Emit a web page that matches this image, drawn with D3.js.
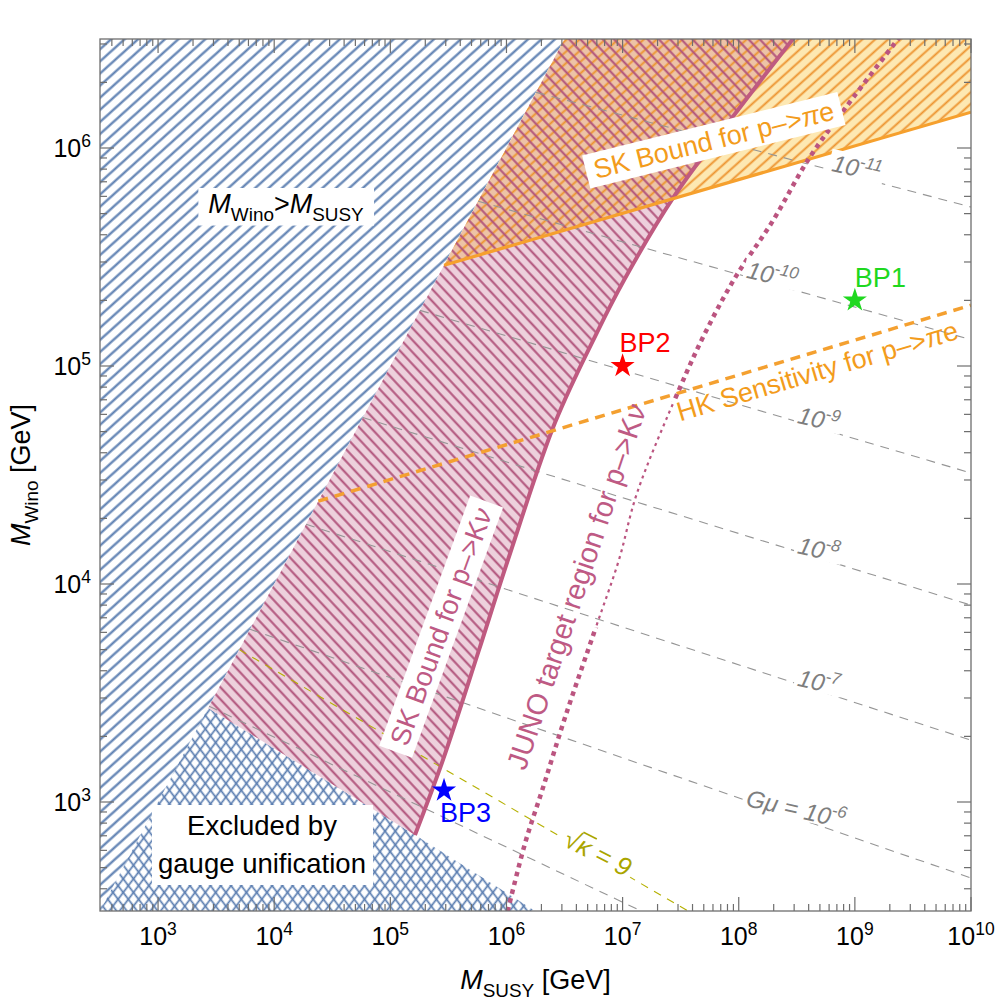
<!DOCTYPE html>
<html>
<head>
<meta charset="utf-8">
<script src="https://cdn.jsdelivr.net/npm/d3@7"></script>
<style>
  body { margin: 0; background: #fff; }
  svg { font-family: 'Liberation Sans', Arial, sans-serif; }
</style>
</head>
<body>
<svg id="chart"></svg>
<script>
// ---------- data (GeV) ----------
const xDomain = [10 ** 2.5, 1e10]
const yDomain = [10 ** 2.5, 10 ** 6.5]

const xTickExps = [3, 4, 5, 6, 7, 8, 9, 10]
const yTickExps = [3, 4, 5, 6]

// M_Wino = M_SUSY
const diagonal = [[10 ** 2.5, 10 ** 2.5], [10 ** 6.6, 10 ** 6.6]]

// upper edge of the gauge unification exclusion
const gaugeBoundary = [[2.7e3, 2.7e3], [1.63e5, 706], [1.77e6, 316]]

// SK bound p -> K nu (top to bottom)
const skKnuCurve = [
  [3.05e8, 3.25e6], [7.9e7, 1.28e6], [2.72e7, 5.9e5], [1.03e7, 2.48e5],
  [6.0e6, 1.42e5], [2.62e6, 5.5e4], [1.03e6, 1.29e4], [5.8e5, 4.98e3],
  [2.84e5, 1.56e3], [1.63e5, 706]
]

// JUNO target region p -> K nu (top to bottom)
const junoCurve = [
  [2.45e9, 3.25e6], [8.4e8, 1.54e6], [4.05e8, 9.0e5], [1.94e8, 4.58e5],
  [9.3e7, 2.54e5], [5.14e7, 1.42e5], [3.13e7, 8.0e4], [1.33e7, 2.61e4],
  [9.3e6, 1.29e4], [5.9e6, 6.35e3], [3.2e6, 2.45e3], [2.07e6, 1.17e3],
  [1.45e6, 650], [1.0e6, 300]
]
const junoThinBand = [6.3e3, 6.9e4]

// SK bound p -> pi e, HK sensitivity p -> pi e
const skPiELine = [[2.9e5, 2.9e5], [1e10, 1.46e6]]
const hkPiELine = [[2.4e4, 2.4e4], [1e10, 1.9e5]]

// G mu contours
const gmuExps = [-11, -10, -9, -8, -7, -6, -5]
const gmuStart = [1.8e6, 5.7e5, 1.8e5, 5.8e4, 1.88e4, 6.2e3, 2.75e3]
const gmuEnd = [[1e10, 5.36e5], [1e10, 1.32e5], [1e10, 3.23e4], [1e10, 8.0e3],
                [1e10, 1.92e3], [1e10, 448], [1.45e7, 316]]
const gmuLabelX = [1.0e9, 1.87e8, 4.7e8, 4.7e8, 4.7e8, 3.0e8, null]

// sqrt(kappa) = 9
const kappaLine = [[5.0e3, 5.0e3], [3.67e7, 316]]

// benchmark points
const bpNames = ['BP1', 'BP2', 'BP3']
const bpPoints = [[1e9, 2e5], [1e7, 1e5], [2.9e5, 1.13e3]]
const bpColors = ['#1fd81f', '#ff0000', '#0000ff']
const bpOffsets = [[0, -13], [-3, -14], [-4, 32]]

// ---------- setup ----------
const width = 1000
const height = 1000
const plot = {left: 100, right: 971, top: 39, bottom: 911}

const x = d3.scaleLog().domain(xDomain).range([plot.left, plot.right])
const y = d3.scaleLog().domain(yDomain).range([plot.bottom, plot.top])

const svg = d3.select('#chart')
  .attr('width', width)
  .attr('height', height)
  .attr('viewBox', [0, 0, width, height])

const defs = svg.append('defs')

defs.append('clipPath').attr('id', 'plotClip')
  .append('rect')
    .attr('x', plot.left).attr('y', plot.top)
    .attr('width', plot.right - plot.left).attr('height', plot.bottom - plot.top)

function hatch(id, angle, spacing, color, w) {
  const p = defs.append('pattern')
    .attr('id', id)
    .attr('patternUnits', 'userSpaceOnUse')
    .attr('width', 20).attr('height', spacing)
    .attr('patternTransform', `rotate(${angle})`)
  p.append('line')
    .attr('x1', -1).attr('x2', 21)
    .attr('y1', spacing / 2).attr('y2', spacing / 2)
    .attr('stroke', color).attr('stroke-width', w)
}

hatch('blueHatch', -42, 9, '#5a7db0', 2.2)
hatch('crossA', -53, 8.2, '#5a7db0', 1.7)
hatch('crossB', 53, 8.2, '#5a7db0', 1.7)
hatch('pinkHatch', 47, 8.2, '#b0527a', 2)
hatch('orangeHatch', -42, 8.6, '#ec9430', 1.9)

const line = d3.line().x(d => x(d[0])).y(d => y(d[1]))
const smooth = d3.line().x(d => x(d[0])).y(d => y(d[1])).curve(d3.curveCatmullRom)
const poly = pts => line(pts) + 'Z'

const topY = 10 ** 6.6
const gaugeRegion = [[xDomain[0], yDomain[0]], ...gaugeBoundary]
const orangeRegion = [skPiELine[0], skPiELine[1], [1e10, topY], [topY, topY]]
const blueRegion = [diagonal[0], diagonal[1], [xDomain[0], topY]]
// pink region: diagonal up to the top, down the SK curve, back along the gauge edge
const pinkPath = line([gaugeBoundary[0], [topY, topY]]) +
  'L' + smooth(skKnuCurve).slice(1) + 'Z'

defs.append('clipPath').attr('id', 'pinkClip')
  .append('path').attr('d', pinkPath)

const g = svg.append('g').attr('clip-path', 'url(#plotClip)')

// M_Wino > M_SUSY
g.append('path').attr('d', poly(blueRegion)).attr('fill', 'url(#blueHatch)')

// gauge unification
g.append('path').attr('d', poly(gaugeRegion)).attr('fill', 'url(#crossA)')
g.append('path').attr('d', poly(gaugeRegion)).attr('fill', 'url(#crossB)')

// SK p->K nu and SK p->pi e regions
g.append('path').attr('d', pinkPath).attr('fill', '#edd0dc')
g.append('path').attr('d', poly(orangeRegion)).attr('fill', '#fde8b2')
g.append('g').attr('clip-path', 'url(#pinkClip)')
  .append('path').attr('d', poly(orangeRegion)).attr('fill', '#edc3a6')
g.append('path').attr('d', poly(orangeRegion)).attr('fill', 'url(#orangeHatch)')
g.append('path').attr('d', pinkPath).attr('fill', 'url(#pinkHatch)')

// G mu contours
const gmuPaths = gmuStart.map((s, i) => [[s, s], gmuEnd[i]])
g.selectAll('path.gmu')
  .data(gmuPaths)
  .join('path')
    .attr('class', 'gmu')
    .attr('d', line)
    .attr('fill', 'none')
    .attr('stroke', '#959595')
    .attr('stroke-width', 1.1)
    .attr('stroke-dasharray', '9,7')

// sqrt(kappa) = 9
g.append('path').attr('d', line(kappaLine))
  .attr('fill', 'none').attr('stroke', '#b5b000')
  .attr('stroke-width', 1.1).attr('stroke-dasharray', '8,7')

// boundaries
g.append('path').attr('d', smooth(skKnuCurve))
  .attr('fill', 'none').attr('stroke', '#bf5a80').attr('stroke-width', 4)
  .attr('stroke-linejoin', 'round')

g.append('path').attr('d', line(skPiELine))
  .attr('fill', 'none').attr('stroke', '#f6a02d').attr('stroke-width', 3.2)

g.append('path').attr('d', line(hkPiELine))
  .attr('fill', 'none').attr('stroke', '#f4a030').attr('stroke-width', 3.5)
  .attr('stroke-dasharray', '10,7')

// JUNO: thick dots, thinner beside the label
const bandTop = y(junoThinBand[1])
const bandBot = y(junoThinBand[0])
const outside = defs.append('clipPath').attr('id', 'junoOut')
outside.append('rect').attr('x', 0).attr('y', 0).attr('width', width).attr('height', bandTop)
outside.append('rect').attr('x', 0).attr('y', bandBot).attr('width', width).attr('height', height - bandBot)
defs.append('clipPath').attr('id', 'junoIn')
  .append('rect').attr('x', 0).attr('y', bandTop).attr('width', width).attr('height', bandBot - bandTop)

g.append('g').attr('clip-path', 'url(#junoOut)')
  .append('path').attr('d', smooth(junoCurve))
  .attr('fill', 'none').attr('stroke', '#bb5580').attr('stroke-width', 4.5)
  .attr('stroke-dasharray', '4.5,4.5')
g.append('g').attr('clip-path', 'url(#junoIn)')
  .append('path').attr('d', smooth(junoCurve))
  .attr('fill', 'none').attr('stroke', '#bb5580').attr('stroke-width', 2.2)
  .attr('stroke-dasharray', '3,4')

// ---------- labels ----------
function richText(sel, parts, size) {
  let shift = 0
  parts.forEach(p => {
    const target = p.sub ? size * 0.28 : p.sup ? -size * 0.42 : 0
    sel.append('tspan')
      .attr('dy', target - shift)
      .attr('font-size', (p.sub || p.sup) ? size * 0.7 : size)
      .attr('font-style', p.it ? 'italic' : null)
      .text(p.t)
    shift = target
  })
  return sel
}

function boxLabel(cx, cy, angle, parts, size, color, pad, box) {
  const grp = svg.append('g').attr('transform', `translate(${cx},${cy}) rotate(${angle})`)
  const rect = grp.append('rect').attr('fill', box ? '#fff' : 'none')
  const t = grp.append('text')
    .attr('text-anchor', 'middle').attr('dy', '0.35em')
    .attr('fill', color).attr('font-size', size)
  richText(t, parts, size)
  const b = t.node().getBBox()
  rect.attr('x', b.x - pad[0]).attr('y', b.y - pad[1])
    .attr('width', b.width + 2 * pad[0]).attr('height', b.height + 2 * pad[1])
  return grp
}

// G mu labels on their lines
gmuExps.forEach((e, i) => {
  const lx = gmuLabelX[i]
  if (!lx) return
  const p = gmuPaths[i]
  const f = (Math.log10(lx) - Math.log10(p[0][0])) / (Math.log10(p[1][0]) - Math.log10(p[0][0]))
  const ly = 10 ** (Math.log10(p[0][1]) + f * (Math.log10(p[1][1]) - Math.log10(p[0][1])))
  const parts = e === -6
    ? [{t: 'Gμ = 10', it: true}, {t: '-6', sup: true, it: true}]
    : [{t: '10', it: true}, {t: String(e), sup: true, it: true}]
  boxLabel(x(lx), y(ly), 13, parts, 24, '#7e7e7e', [3, -3], true)
})

// sqrt(kappa) = 9
{
  const grp = svg.append('g').attr('transform', 'translate(598,853) rotate(27)')
  const rect = grp.append('rect').attr('fill', '#fff')
  const t = grp.append('text').attr('text-anchor', 'middle').attr('dy', '0.35em')
    .attr('fill', '#aaa500').attr('font-size', 26)
  t.append('tspan').text('√')
  t.append('tspan').attr('font-style', 'italic').text('κ')
  t.append('tspan').attr('font-style', 'italic').text(' = 9')
  const b = t.node().getBBox()
  rect.attr('x', b.x - 4).attr('y', b.y + 3).attr('width', b.width + 8).attr('height', b.height - 6)
  const s = t.node().getEndPositionOfChar(0)
  const e = t.node().getEndPositionOfChar(1)
  grp.append('line')
    .attr('x1', s.x - 1).attr('x2', e.x + 1)
    .attr('y1', b.y + 3).attr('y2', b.y + 3)
    .attr('stroke', '#aaa500').attr('stroke-width', 1.6)
}

boxLabel(286, 213, 0,
  [{t: 'M', it: true}, {t: 'Wino', sub: true}, {t: '>'}, {t: 'M', it: true}, {t: 'SUSY', sub: true}],
  27, '#000', [10, 1], true)

boxLabel(716, 149, -14,
  [{t: 'SK Bound for p–>'}, {t: 'π', it: true}, {t: 'e'}], 27, '#f39c1c', [8, 2], true)

boxLabel(820, 380, -16.5,
  [{t: 'HK Sensitivity for p–>'}, {t: 'π', it: true}, {t: 'e'}], 27, '#f39c1c', [4, 0], false)

boxLabel(450, 630, -70,
  [{t: 'SK Bound for p–>K'}, {t: 'ν', it: true}], 27.5, '#be5a84', [8, 2], true)

boxLabel(586, 590, -71.5,
  [{t: 'JUNO target region for p–>K'}, {t: 'ν', it: true}], 29, '#be5a84', [4, 0], false)

// gauge unification box
{
  const gb = svg.append('g')
  gb.append('rect').attr('x', 152).attr('y', 805).attr('width', 221).attr('height', 80).attr('fill', '#fff')
  gb.append('text').attr('x', 262).attr('y', 835).attr('text-anchor', 'middle')
    .attr('font-size', 27.5).text('Excluded by')
  gb.append('text').attr('x', 262).attr('y', 873).attr('text-anchor', 'middle')
    .attr('font-size', 27.5).text('gauge unification')
}

// benchmark points
svg.selectAll('path.bp')
  .data(bpPoints)
  .join('path')
    .attr('class', 'bp')
    .attr('transform', d => `translate(${x(d[0])},${y(d[1])})`)
    .attr('d', d3.symbol(d3.symbolStar, 180))
    .attr('fill', (d, i) => bpColors[i])

svg.selectAll('text.bp')
  .data(bpPoints)
  .join('text')
    .attr('class', 'bp')
    .attr('x', (d, i) => x(d[0]) + bpOffsets[i][0])
    .attr('y', (d, i) => y(d[1]) + bpOffsets[i][1])
    .attr('font-size', 27)
    .attr('fill', (d, i) => bpColors[i])
    .text((d, i) => bpNames[i])

// ---------- frame and ticks ----------
const frameColor = '#6e6e6e'
svg.append('rect')
  .attr('x', plot.left).attr('y', plot.top)
  .attr('width', plot.right - plot.left).attr('height', plot.bottom - plot.top)
  .attr('fill', 'none').attr('stroke', frameColor).attr('stroke-width', 1.3)

function minorTicks(domain) {
  const out = []
  for (let e = 1; e <= 10; e++) {
    for (let m = 2; m <= 9; m++) {
      const v = m * 10 ** e
      if (v > domain[0] && v < domain[1]) out.push(v)
    }
  }
  return out
}

const xMajor = xTickExps.map(e => 10 ** e)
const yMajor = yTickExps.map(e => 10 ** e)
const ticks = svg.append('g').attr('stroke', frameColor).attr('stroke-width', 1.2)

function xTicks(vals, len) {
  vals.forEach(v => {
    ticks.append('line').attr('x1', x(v)).attr('x2', x(v)).attr('y1', plot.bottom).attr('y2', plot.bottom - len)
    ticks.append('line').attr('x1', x(v)).attr('x2', x(v)).attr('y1', plot.top).attr('y2', plot.top + len)
  })
}
function yTicks(vals, len) {
  vals.forEach(v => {
    ticks.append('line').attr('y1', y(v)).attr('y2', y(v)).attr('x1', plot.left).attr('x2', plot.left + len)
    ticks.append('line').attr('y1', y(v)).attr('y2', y(v)).attr('x1', plot.right).attr('x2', plot.right - len)
  })
}
xTicks(xMajor, 14)
xTicks(minorTicks(xDomain), 7)
yTicks(yMajor, 14)
yTicks(minorTicks(yDomain), 7)

xTickExps.forEach(e => {
  const t = svg.append('text').attr('x', x(10 ** e)).attr('y', 945)
    .attr('text-anchor', 'middle').attr('font-size', 25)
  richText(t, [{t: '10'}, {t: String(e), sup: true}], 25)
})
yTickExps.forEach(e => {
  const t = svg.append('text').attr('x', 91).attr('y', y(10 ** e) + 9)
    .attr('text-anchor', 'end').attr('font-size', 25)
  richText(t, [{t: '10'}, {t: String(e), sup: true}], 25)
})

// axis titles
const xt = svg.append('text').attr('x', (plot.left + plot.right) / 2).attr('y', 989)
  .attr('text-anchor', 'middle').attr('font-size', 27)
richText(xt, [{t: 'M', it: true}, {t: 'SUSY', sub: true}, {t: ' [GeV]'}], 27)

const yt = svg.append('text')
  .attr('transform', `translate(30,${(plot.top + plot.bottom) / 2}) rotate(-90)`)
  .attr('text-anchor', 'middle').attr('font-size', 27)
richText(yt, [{t: 'M', it: true}, {t: 'Wino', sub: true}, {t: ' [GeV]'}], 27)
</script>
</body>
</html>
